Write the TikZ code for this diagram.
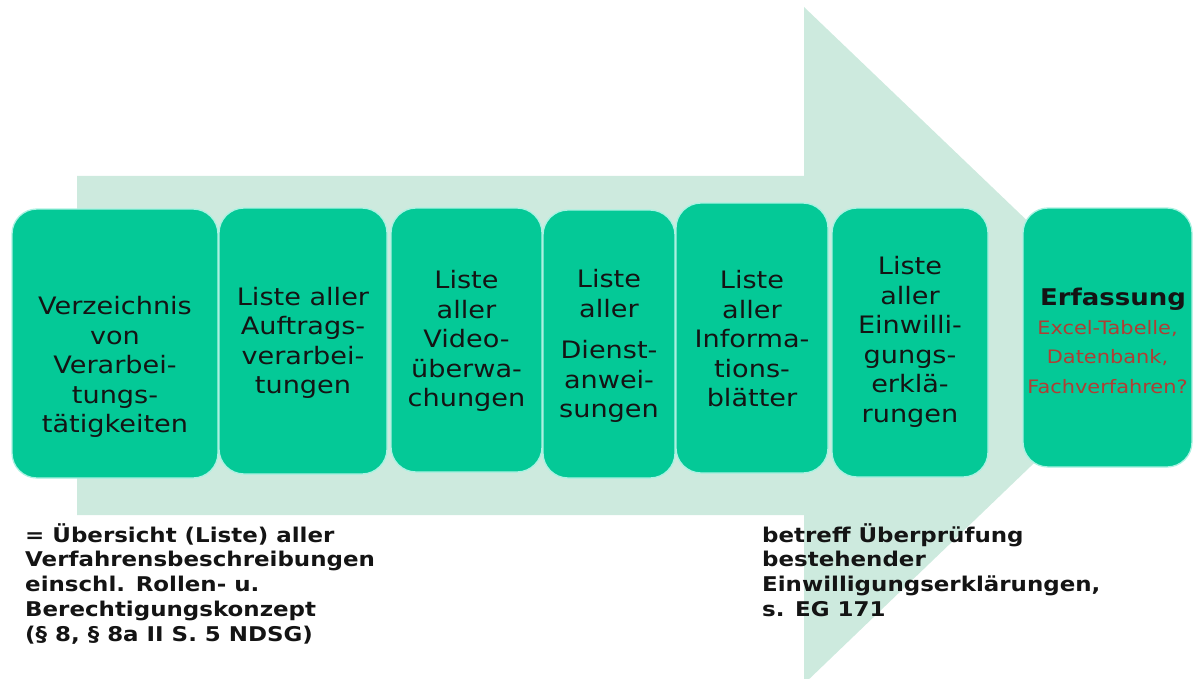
\documentclass[tikz,border=0pt]{standalone}
\usepackage{fontspec}
\setmainfont[FakeStretch=1.13]{DejaVu Sans}
\definecolor{arrowc}{RGB}{205,234,222}
\definecolor{boxc}{RGB}{4,201,151}
\definecolor{boxline}{RGB}{170,242,226}
\definecolor{txt}{RGB}{20,20,20}
\definecolor{redt}{RGB}{175,62,52}
\tikzset{
  boxs/.style={draw=boxline, line width=1.3pt, fill=boxc, rounded corners=25pt, inner sep=0pt},
  btext/.style={align=center, font=\fontsize{24}{29.5}\selectfont, text=txt, inner sep=0pt},
  note/.style={align=left, font=\bfseries\fontsize{20.3}{24.8}\selectfont, text=txt, inner sep=0pt, anchor=base west},
}
\begin{document}
\begin{tikzpicture}[x=1pt,y=-1pt]
\useasboundingbox (0,0) rectangle (1193,679);
\clip (0,0) rectangle (1193,679);
% big arrow
\fill[arrowc] (77,176) -- (804,176) -- (804,7) -- (1157,345) -- (804,684) -- (804,515) -- (77,515) -- cycle;
% boxes
\node[boxs, minimum width=206pt, minimum height=269pt] (b1) at (115,343.5) {};
\node[boxs, minimum width=168pt, minimum height=266pt] (b2) at (303,341) {};
\node[boxs, minimum width=151pt, minimum height=264pt] (b3) at (466.5,340) {};
\node[boxs, minimum width=132pt, minimum height=268pt] (b4) at (609,344) {};
\node[boxs, minimum width=152pt, minimum height=270pt] (b5) at (752,338) {};
\node[boxs, minimum width=156pt, minimum height=269pt] (b6) at (910,342.5) {};
\node[boxs, minimum width=169pt, minimum height=259pt] (b7) at (1107.5,337.5) {};
% box texts
\node[btext] (t1) at (115,367) {Verzeichnis\\von\\Verarbei-\\tungs-\\tätigkeiten};
\node[btext] (t2) at (303,343) {Liste aller\\Auftrags-\\verarbei-\\tungen};
\node[btext] (t3) at (466.5,341) {Liste\\aller\\Video-\\überwa-\\chungen};
\node[btext] (t4) at (609,346) {Liste\\aller\\[12pt]Dienst-\\anwei-\\sungen};
\node[btext] (t5) at (752,339) {Liste\\aller\\Informa-\\tions-\\blätter};
\node[btext] (t6) at (910,342) {Liste\\aller\\Einwilli-\\gungs-\\erklä-\\rungen};
\node[inner sep=0pt, anchor=base, font=\bfseries\fontsize{23}{28}\selectfont, text=txt] (t7) at (1113,305) {Erfassung};
\node[inner sep=0pt, align=center, font=\fontsize{18.5}{29.5}\selectfont, text=redt] (t8) at (1107.5,357) {Excel-Tabelle,\\Datenbank,\\Fachverfahren?};
% notes
\node[note] (n1) at (25,641.2) {= Übersicht (Liste) aller\\Verfahrensbeschreibungen\\einschl. Rollen- u.\\Berechtigungskonzept\\(§ 8, § 8a II S. 5 NDSG)};
\node[note] (n2) at (762,616.4) {betreff Überprüfung\\bestehender\\Einwilligungserklärungen,\\s. EG 171};
\end{tikzpicture}
\end{document}
